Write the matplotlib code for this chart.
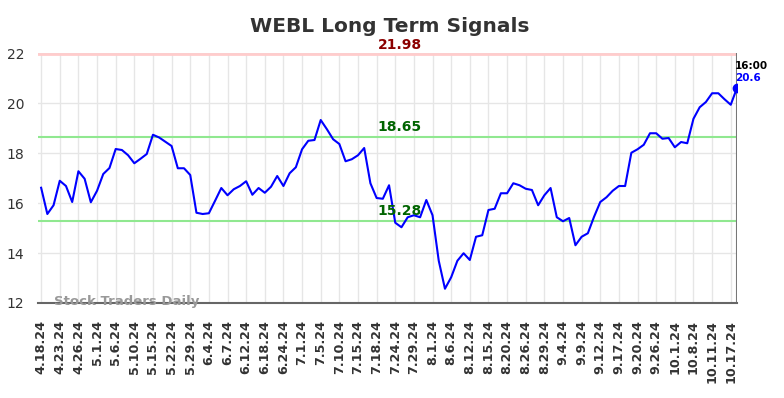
import matplotlib.pyplot as plt
import numpy as np

TICKER = 'WEBL'

tick_labels = ['4.18.24', '4.23.24', '4.26.24', '5.1.24', '5.6.24', '5.10.24', '5.15.24',
               '5.22.24', '5.29.24', '6.4.24', '6.7.24', '6.12.24', '6.18.24', '6.24.24',
               '7.1.24', '7.5.24', '7.10.24', '7.15.24', '7.18.24', '7.24.24', '7.29.24',
               '8.1.24', '8.6.24', '8.12.24', '8.15.24', '8.20.24', '8.26.24', '8.29.24',
               '9.4.24', '9.9.24', '9.12.24', '9.17.24', '9.20.24', '9.26.24', '10.1.24',
               '10.8.24', '10.11.24', '10.17.24']

prices = [16.61, 15.56, 15.91, 16.89, 16.68, 16.04, 17.27, 16.97, 16.03, 16.49,
          17.16, 17.40, 18.16, 18.12, 17.91, 17.59, 17.77, 17.96, 18.73, 18.62,
          18.45, 18.28, 17.39, 17.39, 17.12, 15.61, 15.56, 15.59, 16.09, 16.60,
          16.31, 16.55, 16.68, 16.87, 16.33, 16.60, 16.41, 16.65, 17.08, 16.68,
          17.19, 17.43, 18.15, 18.49, 18.52, 19.32, 18.95, 18.55, 18.36, 17.67,
          17.75, 17.91, 18.20, 16.79, 16.20, 16.17, 16.71, 15.21, 15.03, 15.43,
          15.51, 15.43, 16.12, 15.51, 13.69, 12.57, 13.03, 13.69, 13.99, 13.72,
          14.65, 14.71, 15.72, 15.77, 16.39, 16.39, 16.79, 16.71, 16.57, 16.52,
          15.91, 16.31, 16.60, 15.43, 15.27, 15.40, 14.31, 14.65, 14.79, 15.45,
          16.04, 16.23, 16.49, 16.68, 16.68, 18.01, 18.15, 18.33, 18.79, 18.79,
          18.57, 18.60, 18.23, 18.44, 18.39, 19.37, 19.83, 20.04, 20.39, 20.39,
          20.15, 19.93, 20.60]

upper = 21.98
mid = 18.65
lower = 15.28
last_time = '16:00'
last_price = 20.6

x = np.arange(len(prices))
last = len(prices) - 1

fig = plt.figure(figsize=(7.84, 3.98), dpi=100)
ax = fig.add_axes([0.0485, 0.2387, 0.8915, 0.6281])

ax.grid(True, color='#e6e6e6', linewidth=1)
ax.set_axisbelow(True)

ax.axhline(upper, color='#ffcccc', linewidth=2)
ax.axhline(mid, color='#90e890', linewidth=1.5)
ax.axhline(lower, color='#90e890', linewidth=1.5)
ax.axvline(last, color='#777777', linewidth=1.5)

ax.plot(x, prices, color='#0000ff', linewidth=1.5)
ax.plot(last, prices[-1], 'o', color='#0000ff', markersize=6)

label_x = 57.7
ax.text(label_x, upper + 0.05, '%.2f' % upper, color='#8b0000', fontsize=10,
        fontweight='bold', ha='center', va='bottom')
ax.text(label_x, mid + 0.12, '%.2f' % mid, color='#006400', fontsize=10,
        fontweight='bold', ha='center', va='bottom')
ax.text(label_x, lower + 0.12, '%.2f' % lower, color='#006400', fontsize=10,
        fontweight='bold', ha='center', va='bottom')
ax.text(last - 0.3, prices[-1] + 0.7, last_time, color='black', fontsize=7.5,
        fontweight='bold', ha='left', va='bottom')
ax.text(last - 0.3, prices[-1] + 0.6, '%g' % last_price, color='#0000ff', fontsize=7.5,
        fontweight='bold', ha='left', va='top')

ax.text(2, 12.05, 'Stock Traders Daily', color='#999999', fontsize=9.5,
        fontweight='bold', ha='left', va='center')

ax.set_xlim(-0.5, last)
ax.set_ylim(12, 22)
ax.set_xticks(x[::3][:len(tick_labels)])
ax.set_xticklabels(tick_labels, rotation=90, fontsize=9.2, fontweight='bold')
ax.set_yticks([12, 14, 16, 18, 20, 22])
ax.tick_params(axis='y', labelsize=10, length=0, pad=10, colors='#333333')
ax.tick_params(axis='x', length=0, pad=12, colors='#333333')

for s in ['left', 'top', 'right']:
    ax.spines[s].set_visible(False)
ax.spines['bottom'].set_color('#666666')
ax.spines['bottom'].set_linewidth(1.5)

fig.suptitle(TICKER + ' Long Term Signals', x=0.497, y=0.958, fontsize=14.5,
             fontweight='bold', color='#333333')

fig.savefig('out.png', dpi=100)
